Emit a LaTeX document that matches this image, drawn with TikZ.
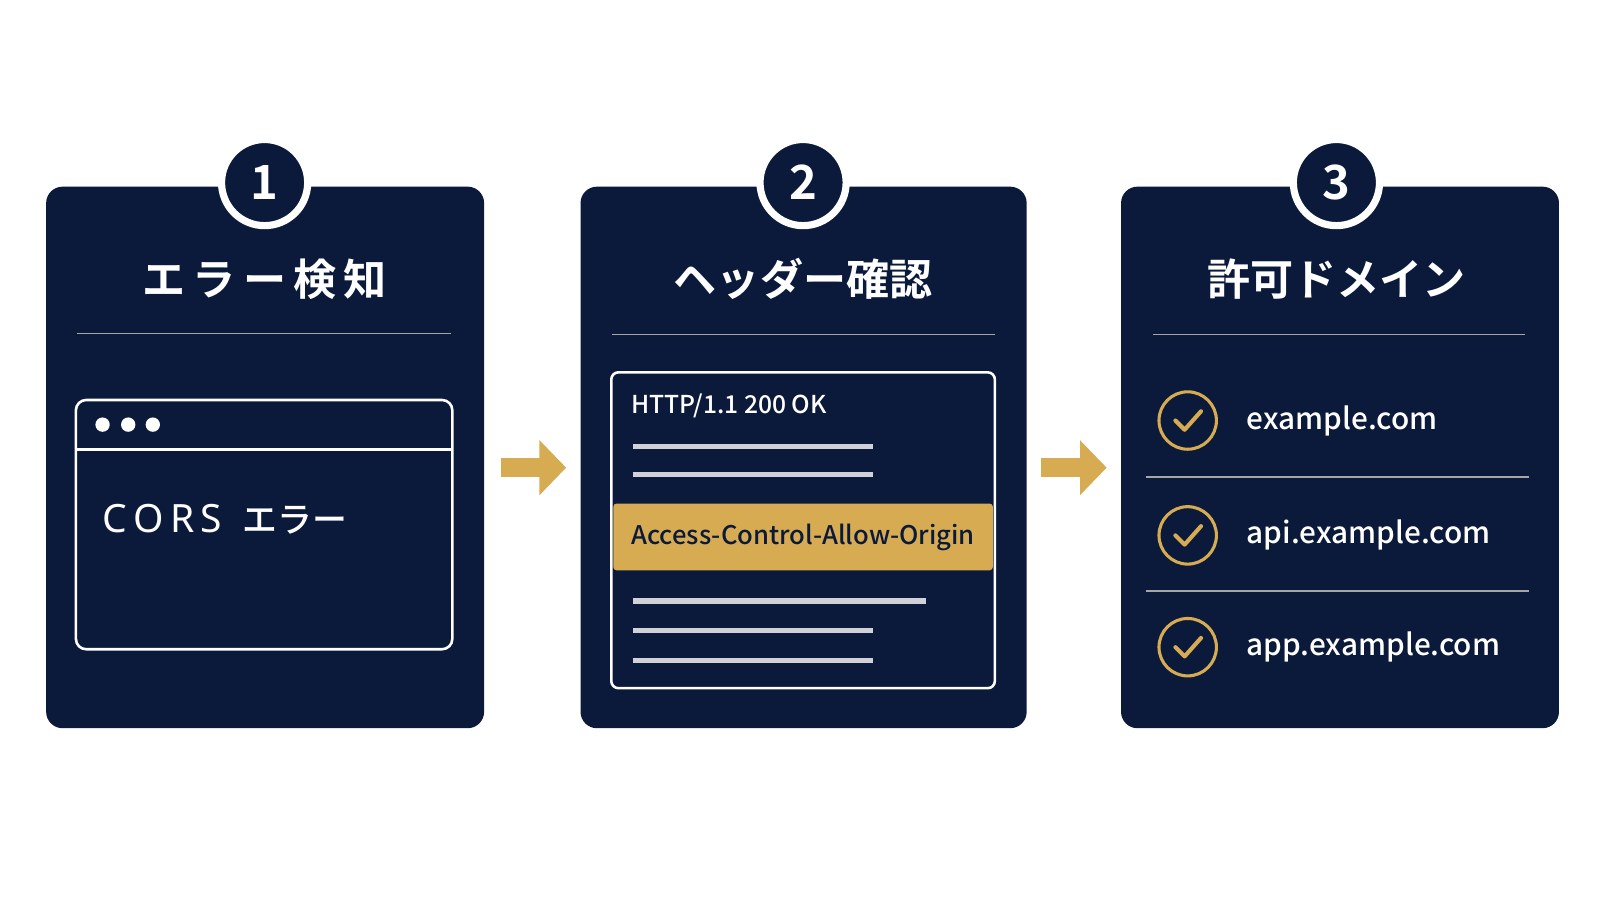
\documentclass[tikz,border=0pt]{standalone}
\usepackage{fontspec}
\setmainfont{Noto Sans CJK JP}
\newfontfamily\jpb{Noto Sans CJK JP Bold}
\newfontfamily\jpm{Noto Sans CJK JP Medium}
\newfontfamily\lat{Noto Sans}
\usetikzlibrary{arrows.meta}
\definecolor{navy}{HTML}{0B1A3B}
\definecolor{gold}{HTML}{D6AB52}
\definecolor{lgrey}{HTML}{D0D2D8}
\begin{document}
\begin{tikzpicture}[x=1pt,y=-1pt,
  panel/.style={fill=navy,rounded corners=16pt},
  ring/.style={circle,fill=navy,draw=white,line width=7pt,minimum size=84pt,inner sep=0pt,text=white,font=\jpb\fontsize{46}{46}\selectfont},
  title/.style={text=white,font=\jpb\fontsize{42}{42}\selectfont},
  divider/.style={draw=gray!70,line width=1.5pt},
  gline/.style={draw=lgrey,line width=5pt},
  item/.style={anchor=west,text=white,font=\jpm\fontsize{29}{29}\selectfont},
  chk/.style={circle,draw=gold,line width=3pt,minimum size=56pt,inner sep=0pt},
  garrow/.style={-{Triangle[length=26pt,width=52pt]},draw=gold,line width=18pt}]
\fill[white] (0,0) rectangle (1560,877);
\useasboundingbox (0,0) rectangle (1560,877);
% panels
\fill[panel] (45,182) rectangle (472,710);
\fill[panel] (566,182) rectangle (1001,710);
\fill[panel] (1093,182) rectangle (1520,710);
\node[ring] (n1) at (258,178) {1};
\node[ring] (n2) at (783,178) {2};
\node[ring] (n3) at (1303,178) {3};
\node[title] (t1) at (258,272) {エ\,ラ\,ー\,検\,知};
\node[title] (t2) at (783,272) {ヘッダー確認};
\node[title] (t3) at (1303,272) {許可ドメイン};
\draw[divider] (75,325) -- (440,325);
\draw[divider] (597,326) -- (970,326);
\draw[divider] (1124,326) -- (1487,326);
% arrows
\coordinate (a1s) at (488,456); \coordinate (a1e) at (552,456);
\coordinate (a2s) at (1015,456); \coordinate (a2e) at (1079,456);
\draw[garrow] (a1s) -- (a1e);
\draw[garrow] (a2s) -- (a2e);
% browser
\draw[white,line width=2.5pt,rounded corners=10pt] (74,390) rectangle (441,633);
\draw[white,line width=2.5pt] (74,438) -- (441,438);
\foreach \x in {100,125,149} \fill[white] (\x,414) circle (7pt);
\node[anchor=west,text=white,font=\lat\fontsize{38}{38}\selectfont] (cors) at (96,506) {C\,O\,R\,S\ \ {\jpm\fontsize{34}{34}\selectfont エラー}};
% document
\draw[white,line width=2.5pt,rounded corners=7pt] (596,363) rectangle (970,671);
\node[anchor=west,text=white,font=\jpm\fontsize{24}{24}\selectfont] (http) at (612,396) {HTTP/1.1 200 OK};
\draw[gline] (617,435) -- (851,435);
\draw[gline] (617,463) -- (851,463);
\fill[gold,rounded corners=3pt] (598,491) rectangle (968,556);
\node[anchor=west,text=navy,font=\jpm\fontsize{25}{25}\selectfont] (acao) at (612,524) {Access-Control-Allow-Origin};
\draw[gline] (617,586) -- (903,586);
\draw[gline] (617,615) -- (851,615);
\draw[gline] (617,644) -- (851,644);
% domains
\foreach \y/\t/\n in {410/example.com/d1,522/api.example.com/d2,631/app.example.com/d3}{
  \node[chk] (c\n) at (1158,\y) {};
  \draw[gold,line width=4pt,line cap=round,line join=round] (1146,\y) -- ++(9,9) -- ++(16,-18);
  \node[item] (\n) at (1212,\y) {\t};
}
\draw[divider] (1117,465) -- (1491,465);
\draw[divider] (1117,576) -- (1491,576);
\end{tikzpicture}
\end{document}
